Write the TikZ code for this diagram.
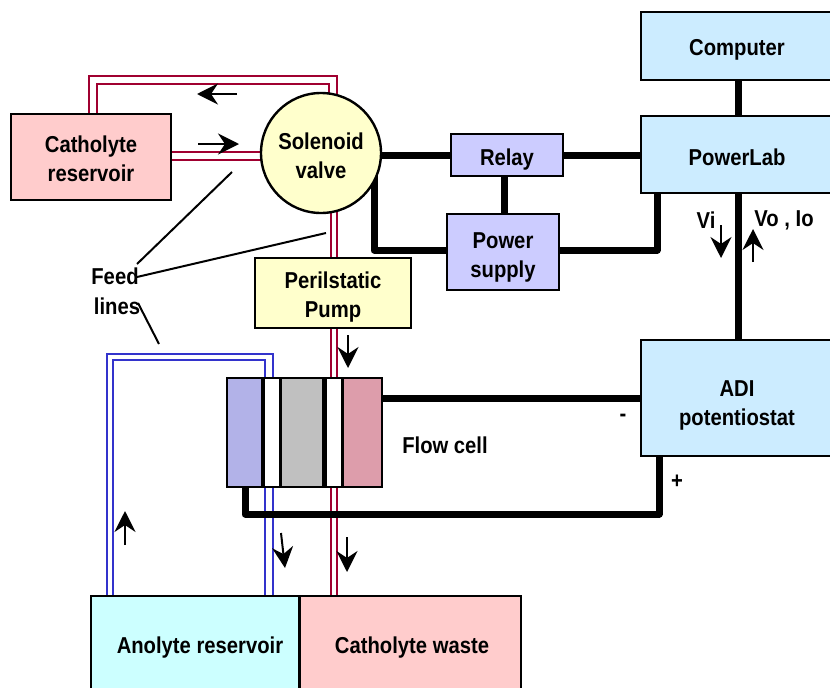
\documentclass[tikz,border=0pt]{standalone}
\usepackage{fontspec}
\setmainfont[FakeStretch=0.88,BoldFont={Liberation Sans Bold}]{Liberation Sans}
\usetikzlibrary{arrows.meta}
\newcommand{\dropby}[1]{\rule{0pt}{\dimexpr16.5pt+2\dimexpr#1pt\relax\relax}}
\definecolor{pinkfill}{HTML}{FFCCCC}
\definecolor{yellowfill}{HTML}{FFFFCC}
\definecolor{skyfill}{HTML}{CCECFF}
\definecolor{lilacfill}{HTML}{CCCCFF}
\definecolor{cyanfill}{HTML}{CCFFFF}
\definecolor{pipered}{HTML}{A00030}
\definecolor{pipeblue}{HTML}{3333CC}
\definecolor{cellblue}{HTML}{B2B2E8}
\definecolor{cellgray}{HTML}{C0C0C0}
\definecolor{cellpink}{HTML}{DD9DAB}
\tikzset{
box/.style={
	rectangle,
	text centered,
	align=center,
	draw=black,
	line width=2.4pt,
	inner sep=0pt,
	outer sep=0pt
},
cellpart/.style={
	rectangle,
	draw=black,
	line width=2.4pt,
	inner sep=0pt,
	outer sep=0pt,
	minimum height=109pt
},
redline/.style={
	draw=pipered,
	line width=2.4pt
},
blueline/.style={
	draw=pipeblue,
	line width=2.4pt
},
wire/.style={
	draw=black,
	line width=7pt,
	line join=round
},
flow/.style={
	-{Stealth[length=21pt,width=21pt,inset=7pt]},
	draw=black,
	line width=2pt
},
pointer/.style={
	draw=black,
	line width=2pt
}
}

\begin{document}
\begin{tikzpicture}[x=1pt, y=-1pt, font=\fontsize{23}{29}\selectfont\bfseries]
\useasboundingbox (0,0) rectangle (830,688);
% ===== Free ends of the feed lines =====
\coordinate (catA) at (89,114);
\coordinate (catB) at (97,114);
\coordinate (catC) at (171,152);
\coordinate (catD) at (171,160);
\coordinate (valA) at (337,97);
\coordinate (valB) at (329,95);
\coordinate (valC) at (262,152);
\coordinate (valD) at (261,160);
\coordinate (valE) at (331,212);
\coordinate (valF) at (337,212);
\coordinate (pumpA) at (331,258);
\coordinate (pumpB) at (337,258);
\coordinate (pumpC) at (331,328);
\coordinate (pumpD) at (337,328);
\coordinate (cellA) at (331,378);
\coordinate (cellB) at (337,378);
\coordinate (cellC) at (331,488);
\coordinate (cellD) at (337,488);
\coordinate (wasteA) at (331,596);
\coordinate (wasteB) at (337,596);
\coordinate (cellE) at (265,378);
\coordinate (cellF) at (273,378);
\coordinate (cellG) at (265,488);
\coordinate (cellH) at (273,488);
\coordinate (anoA) at (107,596);
\coordinate (anoB) at (113,596);
\coordinate (anoC) at (265,596);
\coordinate (anoD) at (273,596);
% ===== Feed lines =====
\draw [redline] (catA) -- ++(0,-38) -| (valA);
\draw [redline] (catB) -- ++(0,-30) -| (valB);
\draw [redline] (catC) -- (valC);
\draw [redline] (catD) -- (valD);
\draw [redline] (valE) -- (pumpA);
\draw [redline] (valF) -- (pumpB);
\draw [redline] (pumpC) -- (cellA);
\draw [redline] (pumpD) -- (cellB);
\draw [redline] (cellC) -- (wasteA);
\draw [redline] (cellD) -- (wasteB);
\draw [blueline] (anoA) -- ++(0,-242) -| (cellF);
\draw [blueline] (anoB) -- ++(0,-236) -| (cellE);
\draw [blueline] (cellG) -- (anoC);
\draw [blueline] (cellH) -- (anoD);
% ===== Free ends of the wires =====
\coordinate (valR) at (374,175);
\coordinate (valS) at (375,155);
\coordinate (relayS) at (504,176);
\coordinate (supplyN) at (504,214);
\coordinate (relayW) at (451,155);
\coordinate (relayE) at (563,155);
\coordinate (labW) at (641,155);
\coordinate (labB) at (657,193);
\coordinate (compS) at (738,80);
\coordinate (labN) at (738,116);
\coordinate (labS) at (738,193);
\coordinate (adiN) at (738,340);
\coordinate (adiW) at (641,398);
\coordinate (cellW) at (382,398);
\coordinate (adiB) at (659,456);
\coordinate (cellS) at (245,487);
\coordinate (supplyW) at (447,250);
\coordinate (supplyE) at (559,250);
% ===== Wires =====
\draw [wire] (valS) -- (relayW);
\draw [wire] (relayE) -- (labW);
\draw [wire] (relayS) -- (supplyN);
\draw [wire] (valR) |- (supplyW);
\draw [wire] (supplyE) -| (labB);
\draw [wire] (compS) -- (labN);
\draw [wire] (labS) -- (adiN);
\draw [wire] (cellW) -- (adiW);
\draw [wire] (adiB) -- ++(0,58) -| (cellS);
% ===== Boxes =====
\node (catres)  [box, fill=pinkfill, minimum width=160pt, minimum height=86pt]   at (91,157)    {\dropby{1.5}Catholyte\\reservoir};
\node (valve)   [box, circle, fill=yellowfill, minimum size=120pt]               at (321,153)   {\dropby{3}Solenoid\\valve};
\node (pump)    [box, fill=yellowfill, minimum width=156pt, minimum height=70pt] at (333,293)   {\dropby{4.5}Perilstatic\\Pump};
\node (relay)   [box, fill=lilacfill, minimum width=112pt, minimum height=42pt]  at (507,155)   {\dropby{5}Relay};
\node (supply)  [box, fill=lilacfill, minimum width=112pt, minimum height=76pt]  at (503,252)   {\dropby{5}Power\\supply};
\node (computer)[box, fill=skyfill, minimum width=192pt, minimum height=68pt]    at (737,46)    {\dropby{4}Computer};
\node (lab)     [box, fill=skyfill, minimum width=192pt, minimum height=77pt]    at (737,154.5) {\dropby{3}PowerLab};
\node (adi)     [box, fill=skyfill, minimum width=192pt, minimum height=116pt]   at (737,398)   {\dropby{7}ADI\\potentiostat};
\node (anolyte) [box, fill=cyanfill, minimum width=208pt, minimum height=96pt]   at (195,644)   {\dropby{4}\hspace{10pt}Anolyte reservoir};
\node (waste)   [box, fill=pinkfill, minimum width=221pt, minimum height=96pt]   at (410.5,644) {\dropby{4}\hspace{3pt}Catholyte waste};
% ===== Flow cell =====
\node (cellanode)   [cellpart, fill=cellblue, minimum width=35pt] at (244.5,432.5) {};
\node (cellleft)    [cellpart, fill=white, minimum width=17pt]    at (271.5,432.5) {};
\node (cellmiddle)  [cellpart, fill=cellgray, minimum width=43pt] at (302,432.5)   {};
\node (cellright)   [cellpart, fill=white, minimum width=17pt]    at (333.5,432.5) {};
\node (cellcathode) [cellpart, fill=cellpink, minimum width=39pt] at (362.5,432.5) {};
\draw [line width=4pt] (cellleft.north west) -- (cellleft.south west);
\draw [line width=4pt] (cellright.north west) -- (cellright.south west);
% ===== Flow arrows =====
\coordinate (arrA) at (237,94);   \coordinate (arrB) at (197,94);
\coordinate (arrC) at (198,144);  \coordinate (arrD) at (239,144);
\coordinate (arrE) at (348,335);  \coordinate (arrF) at (348,368);
\coordinate (arrG) at (125,545);  \coordinate (arrH) at (125,511);
\coordinate (arrI) at (281,533);  \coordinate (arrJ) at (285,568);
\coordinate (arrK) at (347,537);  \coordinate (arrL) at (347,572);
\coordinate (arrM) at (721,225);  \coordinate (arrN) at (721,258);
\coordinate (arrO) at (753,262);  \coordinate (arrP) at (753,229);
\draw [flow] (arrA) -- (arrB);
\draw [flow] (arrC) -- (arrD);
\draw [flow] (arrE) -- (arrF);
\draw [flow] (arrG) -- (arrH);
\draw [flow] (arrI) -- (arrJ);
\draw [flow] (arrK) -- (arrL);
\draw [flow] (arrM) -- (arrN);
\draw [flow] (arrO) -- (arrP);
% ===== Labels =====
\node (feed)   [inner sep=0pt] at (115,276) {Feed};
\node (lines)  [inner sep=0pt] at (117,306) {lines};
\node (flowcell) [inner sep=0pt] at (445,445) {Flow cell};
\node (minus)  [inner sep=0pt] at (623,418) {-};
\node (plus)   [inner sep=0pt] at (677,482) {+};
\node (vi)     [inner sep=0pt] at (706,220) {Vi};
\node (vo)     [inner sep=0pt] at (784,220) {Vo , Io};
% ===== Feed line pointers =====
\coordinate (ptrA) at (232,172);
\coordinate (ptrB) at (326,233);
\coordinate (ptrC) at (159,344);
\coordinate (ptrD) at (137,264);
\coordinate (ptrE) at (137,277);
\coordinate (ptrF) at (138,303);
\draw [pointer] (ptrD) -- (ptrA);
\draw [pointer] (ptrE) -- (ptrB);
\draw [pointer] (ptrF) -- (ptrC);
\end{tikzpicture}
\end{document}
